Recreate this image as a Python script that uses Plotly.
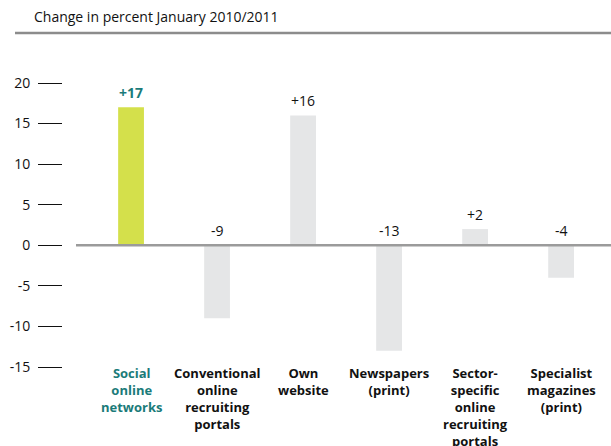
import plotly.graph_objects as go

# Recruiting channels and their change in percent, Jan 2010 -> Jan 2011
categories = [
    "Social<br>online<br>networks",
    "Conventional<br>online<br>recruiting<br>portals",
    "Own<br>website",
    "Newspapers<br>(print)",
    "Sector-<br>specific<br>online<br>recruiting<br>portals",
    "Specialist<br>magazines<br>(print)",
]
values = [17, -9, 16, -13, 2, -4]
value_labels = ["+17", "-9", "+16", "-13", "+2", "-4"]
y_ticks = [20, 15, 10, 5, 0, -5, -10, -15]
y_tick_labels = ["20", "15", "10", "5", "0", "-5", "-10", "-15"]

GREEN = "#d4e04b"
GREY_BAR = "#e5e6e7"
TEAL = "#1b7b79"
LINE_GREY = "#9b9b9b"
FONT = "'Open Sans', sans-serif"

W, H = 611, 446
ML, MT, MB = 76, 50, 66
PW = W - ML           # plot width in px
PH = H - MT - MB      # plot height in px


def px_x(px):
    """paper x-fraction for an absolute pixel column"""
    return (px - ML) / PW


def px_y(py):
    """paper y-fraction for an absolute pixel row"""
    return 1 + (MT - py) / PH


xs = list(range(len(categories)))
colors = [GREEN] + [GREY_BAR] * (len(values) - 1)

fig = go.Figure(
    go.Bar(
        x=xs,
        y=values,
        width=0.30,
        marker=dict(color=colors, line=dict(width=0)),
        hoverinfo="skip",
    )
)

# horizontal zero baseline across the plot
fig.add_shape(
    type="line", xref="paper", yref="y",
    x0=0, x1=1, y0=0, y1=0,
    line=dict(color=LINE_GREY, width=2.5),
    layer="above",
)
# rule under the heading
fig.add_shape(
    type="line", xref="paper", yref="paper",
    x0=px_x(15), x1=1, y0=px_y(33), y1=px_y(33),
    line=dict(color="#8c8c8c", width=2.5),
)

# value labels above the bar (positive) or above the baseline (negative)
for i, (v, lab) in enumerate(zip(values, value_labels)):
    first = i == 0
    fig.add_annotation(
        x=i, y=max(v, 0), xref="x", yref="y",
        text=f"<b>{lab}</b>" if first else lab,
        showarrow=False, yanchor="bottom", yshift=3,
        font=dict(family=FONT, size=14, color=TEAL if first else "#111111"),
    )

# category labels below the chart
for i, cat in enumerate(categories):
    first = i == 0
    fig.add_annotation(
        x=i, y=-14.4, xref="x", yref="y",
        text=f"<b>{cat}</b>", showarrow=False,
        yanchor="top", align="center",
        font=dict(family=FONT, size=13, color=TEAL if first else "#111111"),
    )

fig.add_annotation(
    xref="paper", yref="paper", x=px_x(32), y=px_y(28),
    xanchor="left", yanchor="bottom", showarrow=False,
    text="Change in percent January 2010/2011",
    font=dict(family=FONT, size=14, color="#111111"),
)

fig.update_layout(
    width=W, height=H,
    margin=dict(l=ML, r=0, t=MT, b=MB),
    paper_bgcolor="white", plot_bgcolor="white",
    showlegend=False,
    font=dict(family=FONT, size=14, color="#111111"),
    xaxis=dict(
        range=[-0.64, 5.58], showticklabels=False, showgrid=False,
        zeroline=False, showline=False, ticks="", fixedrange=True,
    ),
    yaxis=dict(
        range=[-16.6, 24.07],
        tickvals=y_ticks, ticktext=y_tick_labels,
        ticks="outside", ticklen=24, tickwidth=1.3, tickcolor="#111111",
        showgrid=False, zeroline=False, showline=False,
        tickfont=dict(family=FONT, size=14, color="#111111"),
        ticklabelstandoff=5,
        anchor="free", position=0, autoshift=False, shift=-14,
        fixedrange=True,
    ),
)

fig.write_html("out.html")
